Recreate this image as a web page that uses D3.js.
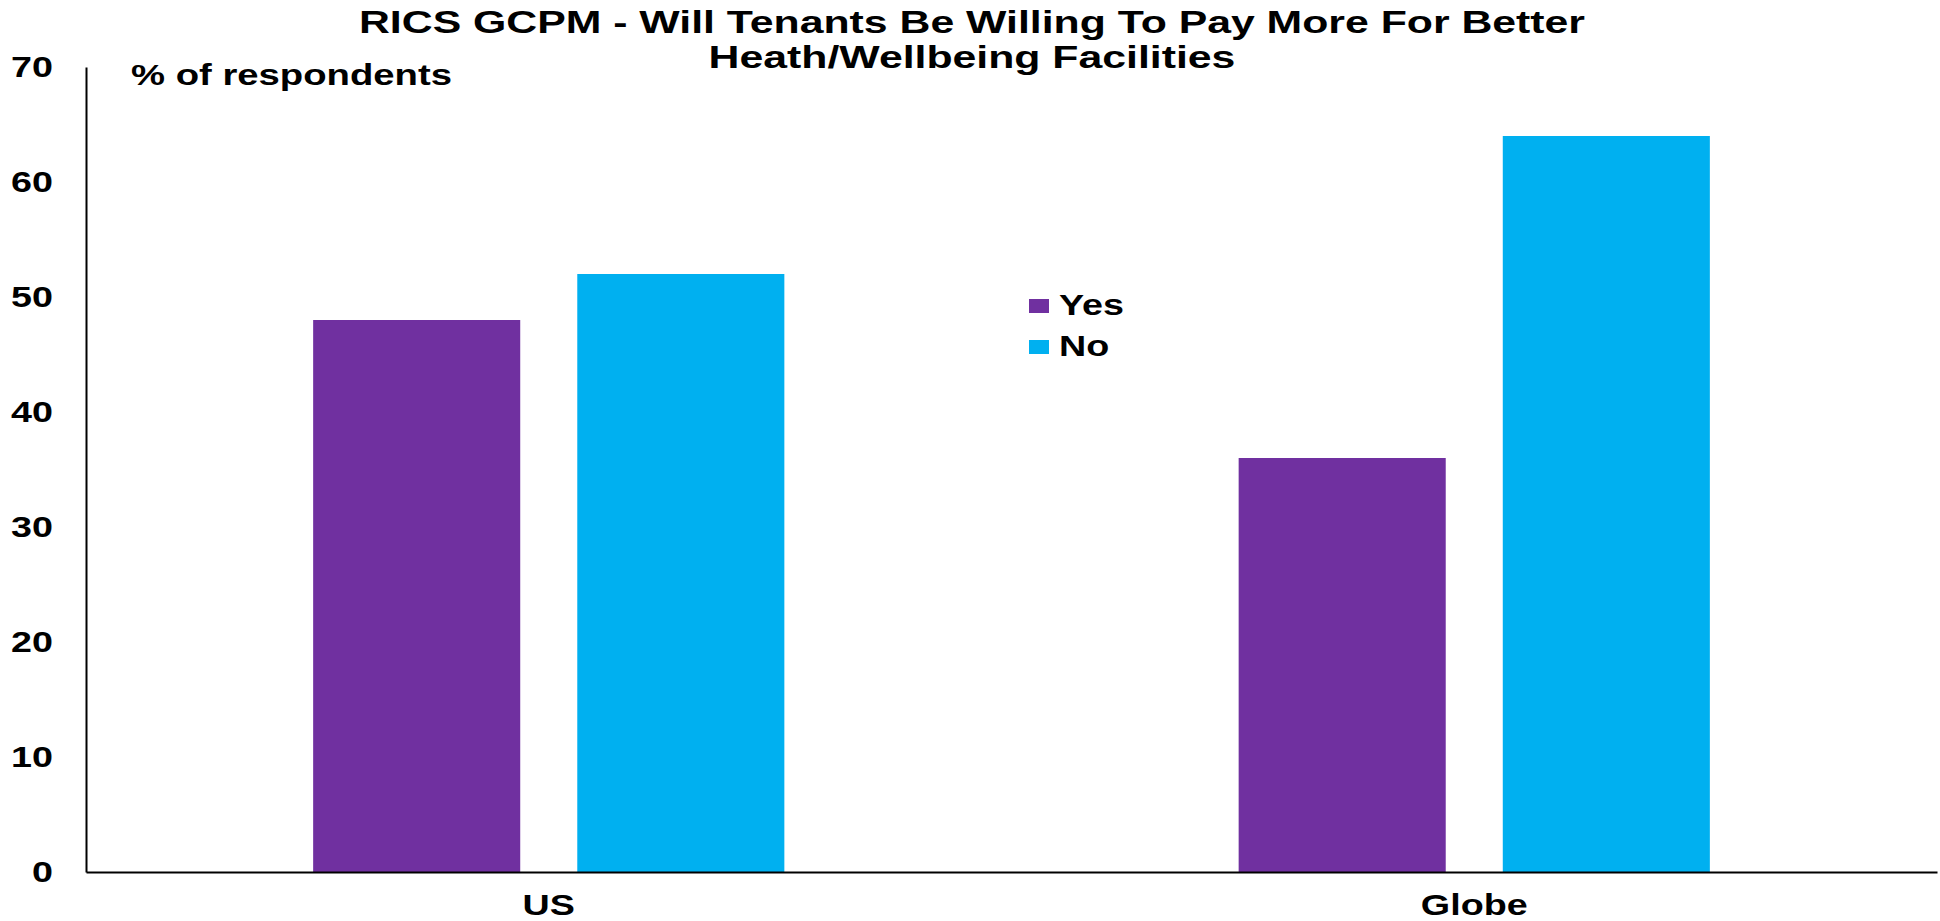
<!DOCTYPE html>
<html>
<head>
<meta charset="utf-8">
<script src="https://cdn.jsdelivr.net/npm/d3@7"></script>
<style>
  html, body { margin: 0; padding: 0; background: #ffffff; }
  svg { display: block; }
  text { font-family: "Liberation Sans", Arial, sans-serif; font-weight: bold; fill: #000000; }
</style>
</head>
<body>
<svg id="chart" width="1940" height="921"></svg>
<script>
// Survey responses (% of respondents)
const categories = ["US", "Globe"];
const seriesNames = ["Yes", "No"];
const yesValues = [48, 36];
const noValues = [52, 64];
const yTickValues = [0, 10, 20, 30, 40, 50, 60, 70];
const titleLines = ["RICS GCPM - Will Tenants Be Willing To Pay More For Better", "Heath/Wellbeing Facilities"];
const yAxisLabel = "% of respondents";

const colors = { Yes: "#7030A0", No: "#00B0F0" };
const SX = 1.3;   // horizontal glyph stretch used throughout the chart text

const svg = d3.select("#chart");
const plot = { left: 86, right: 1937, top: 67, bottom: 872 };

const x0 = d3.scaleBand().domain(categories).range([plot.left, plot.right]).padding(0);
const x1 = d3.scaleBand().domain(seriesNames).range([0, x0.bandwidth()])
  .paddingInner(0.216).paddingOuter(0.86);
const y = d3.scaleLinear().domain([0, 70]).range([plot.bottom, plot.top]);

const rows = categories.map((c, i) => ({ category: c, Yes: yesValues[i], No: noValues[i] }));

// stretched text helper
function label(parent, str, x, yPos, size, anchor, sx = SX) {
  return parent.append("text")
    .attr("transform", `translate(${x},${yPos}) scale(${sx},1)`)
    .attr("text-anchor", anchor)
    .style("font-size", size + "px")
    .text(str);
}

// bars
const groups = svg.append("g").selectAll("g").data(rows).join("g")
  .attr("transform", d => `translate(${x0(d.category)},0)`);
groups.selectAll("rect")
  .data(d => seriesNames.map(s => ({ key: s, value: d[s] })))
  .join("rect")
  .attr("x", d => x1(d.key))
  .attr("width", x1.bandwidth())
  .attr("y", d => y(d.value))
  .attr("height", d => y(0) - y(d.value))
  .attr("fill", d => colors[d.key]);

// y axis
const yAxis = svg.append("g")
  .attr("transform", `translate(${plot.left},0)`)
  .call(d3.axisLeft(y).tickValues(yTickValues).tickSize(0).tickPadding(0));
yAxis.select(".domain").attr("stroke", "#000").attr("stroke-width", 2);
yAxis.selectAll(".tick text").remove();
yAxis.selectAll(".tick").each(function(d) {
  label(d3.select(this), d3.format("d")(d), -33, 9, 29, "end");
});

// x axis
const xAxis = svg.append("g")
  .attr("transform", `translate(0,${plot.bottom})`)
  .call(d3.axisBottom(x0).tickSize(0).tickPadding(0));
xAxis.select(".domain").attr("stroke", "#000").attr("stroke-width", 2);
xAxis.selectAll(".tick text").remove();
xAxis.selectAll(".tick").each(function(d) {
  label(d3.select(this), d, 0, 43, 29, "middle");
});

// axis unit label
label(svg, yAxisLabel, 131, 85, 29, "start", 1.32);

// title
titleLines.forEach((t, i) => label(svg, t, 972, 33 + i * 35, 31, "middle", 1.38));

// legend
const legend = svg.append("g").attr("transform", "translate(1029,299)");
seriesNames.forEach((s, i) => {
  const g = legend.append("g").attr("transform", `translate(0,${i * 41})`);
  g.append("rect").attr("width", 20).attr("height", 14).attr("fill", colors[s]);
  label(g, s, 30, 16, 29, "start");
});
</script>
</body>
</html>
